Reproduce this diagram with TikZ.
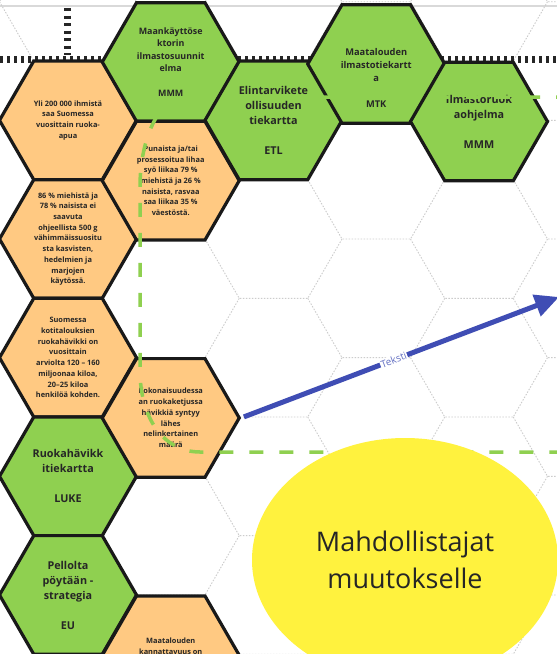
\documentclass[tikz,border=0pt]{standalone}
\usepackage{fontspec}
\setmainfont{Open Sans}
\usetikzlibrary{shapes.geometric,arrows.meta}
\definecolor{hexgreen}{HTML}{8FD050}
\definecolor{hexorange}{HTML}{FFC982}
\definecolor{pathgreen}{HTML}{8FD050}
\definecolor{ideayellow}{HTML}{FFF23E}
\definecolor{arrowblue}{HTML}{3F4DB4}
\definecolor{inkgrey}{HTML}{262626}

\begin{document}
\begin{tikzpicture}[x=1pt,y=-1pt,node distance=118.65pt,
    hex/.style={regular polygon,regular polygon sides=6,minimum size=137pt,inner sep=0pt,draw=black!90,line width=3.2pt},
    green hex/.style={hex,fill=hexgreen},
    orange hex/.style={hex,fill=hexorange},
    fact text/.style={align=center,text=inkgrey,font=\bfseries\fontsize{7.4}{10.7}\selectfont},
    plan text/.style={align=center,text=inkgrey,font=\bfseries\fontsize{10.8}{15}\selectfont},
    grid line/.style={gray!40,line width=0.9pt,dash pattern=on 1.5pt off 1.5pt}]
                \useasboundingbox (0,0) rectangle (557,654);
                \clip (0,0) rectangle (557,654);
                \fill[white] (0,0) rectangle (557,654);
                \draw[gray!30, line width=1.5pt] (0,6) -- (557,6);

                \foreach \c in {0,...,6}{
                    \foreach \r in {-2,...,5}{
                        \pgfmathsetmacro\hx{68+102.75*(\c-1)}
                        \pgfmathsetmacro\hy{239+118.65*\r-59.325*(1-mod(\c,2))}
                        \draw[grid line] (\hx,\hy) +(180:68.5) -- +(120:68.5) -- +(60:68.5) -- +(0:68.5);
                    }
                }

                \draw[black!85, line width=7pt, dash pattern=on 3pt off 4pt] (0,59) -- (557,59);
                \draw[black!85, line width=7pt, dash pattern=on 3pt off 4.5pt] (67,8) -- (67,55);

                \node[orange hex, label={[fact text]center:{Yli 200 000 ihmistä\\saa Suomessa\\vuosittain ruoka-\\apua}}] (yli) at (68,120.35) {};
                \node[orange hex, label={[fact text]center:{86 \% miehistä ja\\78 \% naisista ei\\saavuta\\ohjeellista 500 g\\vähimmäissuositu\\sta kasvisten,\\hedelmien ja\\marjojen\\käytössä.}}] (kasvis) [below of = yli] {};
                \node[orange hex, label={[fact text]center:{Suomessa\\kotitalouksien\\ruokahävikki on\\vuosittain\\arviolta 120 – 160\\miljoonaa kiloa,\\20–25 kiloa\\henkilöä kohden.}}] (koti) [below of = kasvis] {};
                \node[green hex, label={[plan text]center:{Ruokahävikk\\itiekartta\\[15pt]LUKE}}] (luke) [below of = koti] {};
                \node[green hex, label={[plan text]center:{Pellolta\\pöytään -\\strategia\\[15pt]EU}}] (eu) [below of = luke] {};

                \node[green hex, label={[plan text, font=\bfseries\fontsize{8.9}{12.5}\selectfont]center:{Maankäyttöse\\ktorin\\ilmastosuunnit\\elma\\[12.5pt]MMM}}] (maank) at (170.75,62) {};
                \node[orange hex, label={[fact text]center:{Punaista ja/tai\\prosessoitua lihaa\\syö liikaa 79 \%\\miehistä ja 26 \%\\naisista, rasvaa\\saa liikaa 35 \%\\väestöstä.}}] (liha) [below of = maank] {};
                \node[orange hex, label={[fact text]center:{Kokonaisuudessa\\an ruokaketjussa\\hävikkiä syntyy\\lähes\\nelinkertainen\\määrä}}] (koko) [below of = liha, yshift = -118.65pt] {};
                \node[orange hex, label={[fact text, yshift = 9pt]center:{Maatalouden\\kannattavuus on}}] (kannatt) [below of = koko, yshift = -118.65pt] {};

                \node[green hex, label={[plan text]center:{Elintarvikete\\ollisuuden\\tiekartta\\[15pt]ETL}}] (etl) at (273.5,120.35) {};
                \node[green hex, label={[plan text, font=\bfseries\fontsize{9.3}{13}\selectfont, yshift = -14pt]center:{Maatalouden\\ilmastotiekartt\\a\\[13pt]MTK}}] (mtk) at (376.25,64) {};
                \node[green hex, label={[plan text]center:{Ilmastoruok\\aohjelma\\[15pt]MMM}}] (ilmruoka) at (479,121.5) {};

                \draw[pathgreen, line width=3.5pt, dash pattern=on 14pt off 16pt] (600,97) -- (185,97) .. controls (160,97) and (140,137) .. (140,187) -- (140,370) .. controls (140,420) and (165,452) .. (200,452) -- (600,452);

                \coordinate (kohde) at (559,297);
                \path[arrowblue, line width=5pt, -{Triangle[length=24pt,width=22pt]}, shorten <=3pt]
                    (koko.east) edge node[sloped, pos=0.48, fill=white, inner sep=1pt, text=arrowblue!80, font=\fontsize{10}{11}\selectfont] {Teksti} (kohde)
                    ;

                \node[ellipse, fill=ideayellow, minimum width=306pt, minimum height=244pt, inner sep=0pt, align=center, text=inkgrey, font=\fontsize{27}{37}\selectfont] (mahd) at (405,560) {Mahdollistajat\\muutokselle};
            \end{tikzpicture}
\end{document}
